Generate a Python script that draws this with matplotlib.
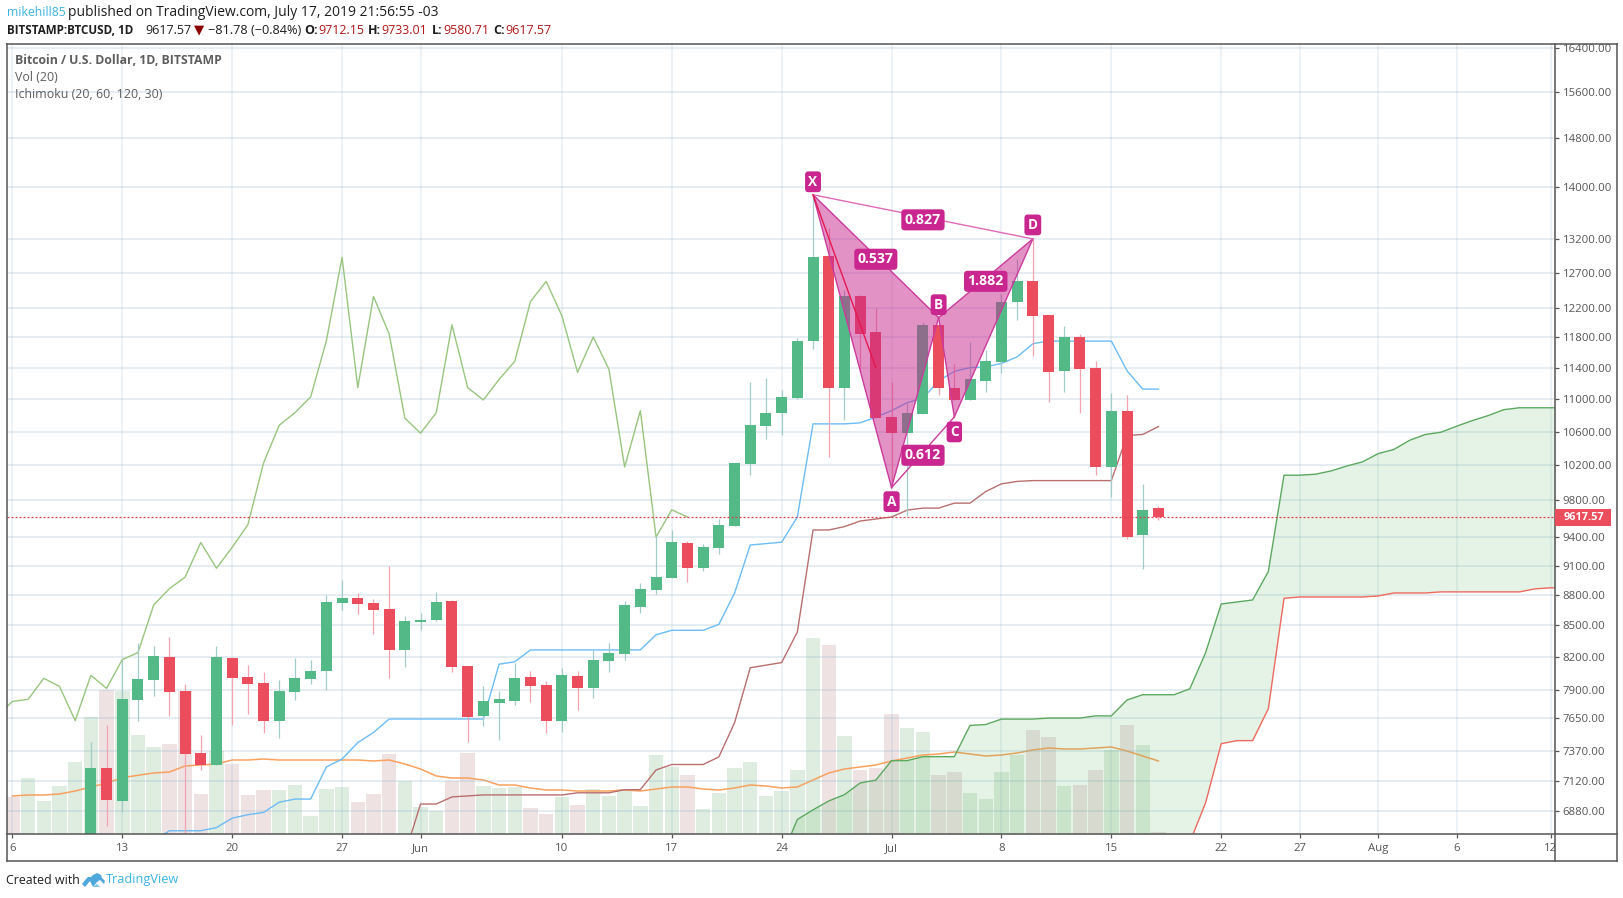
import pandas as pd
import matplotlib
matplotlib.use("Agg")
import matplotlib.pyplot as plt
from matplotlib.lines import Line2D
from matplotlib.patches import Polygon, Rectangle
from matplotlib.ticker import NullLocator
from matplotlib.transforms import Bbox

W, H = 1624, 898

# candles, one per day from 2019-05-11
CANDLE_START = "2019-05-11"
opens = [6370, 7223, 6963, 7805, 7985, 8203, 7885, 7353, 7255, 8194, 8014, 7957, 7622, 7880, 7994, 8066, 8723, 8773,
         8723, 8663, 8270, 8533, 8553, 8743, 8112, 7670, 7778, 7796, 8012, 7939, 7627, 8021, 7912, 8167, 8231, 8680,
         8853, 8969, 9341, 9072, 9280, 9523, 10216, 10665, 10822, 11013, 11753, 12940, 11144, 12363, 11874, 10775,
         10580, 10818, 11970, 11144, 10988, 11222, 11469, 12290, 12576, 12108, 11352, 11804, 11391, 10180, 10855,
         9425, 9712.15]
highs = [7446, 7593, 8176, 8331, 8306, 8390, 7948, 7500, 8306, 8203, 8125, 8060, 7985, 8194, 8172, 8800, 8950, 8824,
         8763, 9100, 8593, 8623, 8833, 8753, 8112, 7930, 7885, 8140, 8067, 7976, 8094, 8067, 8269, 8335, 8743, 8917,
         9408, 9479, 9362, 9331, 9598, 10228, 11213, 11265, 11110, 11791, 13882, 13359, 12460, 12390, 12205, 11210,
         10950, 12002, 11970, 11444, 11740, 11637, 12404, 12896, 13200, 12108, 11950, 11846, 11490, 11080, 11045,
         9988, 9733.01]
lows = [6370, 6766, 6870, 7622, 7843, 7665, 6600, 7210, 7255, 7585, 7682, 7518, 7477, 7810, 7948, 7897, 8653, 8610,
        8420, 8005, 8110, 8455, 8543, 8057, 7441, 7576, 7460, 7760, 7790, 7520, 7530, 7716, 7830, 8057, 8176, 8620,
        8810, 8969, 8928, 9041, 9217, 9523, 10090, 10505, 10560, 11000, 11650, 10300, 10745, 11340, 10763, 10000,
        9625, 10818, 11051, 10988, 10988, 11091, 11335, 12040, 11558, 10964, 11091, 10830, 10087, 9840, 9375,
        9062, 9580.71]
closes = [7223, 6970, 7814, 7994, 8212, 7880, 7345, 7255, 8203, 8005, 7948, 7622, 7885, 8003, 8066, 8733, 8773, 8713,
          8653, 8270, 8543, 8553, 8733, 8103, 7662, 7795, 7814, 8003, 7930, 7627, 8030, 7912, 8176, 8241, 8700, 8863,
          8980, 9342, 9072, 9290, 9533, 10228, 10677, 10830, 11026, 11753, 12926, 11144, 12363, 11846, 10763, 10580,
          10830, 11970, 11144, 10988, 11248, 11482, 12290, 12576, 12094, 11340, 11804, 11378, 10180, 10855, 9400,
          9696, 9617.57]

# volume from 2019-05-06, in arbitrary units
VOLUME_START = "2019-05-06"
volume = [3670, 5630, 3330, 4830, 7230, 11730, 14400, 14330, 9930, 8730, 9030, 14330, 4030, 8270, 7030, 3930, 4430,
          4430, 4930, 1830, 4530, 4730, 3230, 4030, 8030, 5300, 2730, 2330, 5270, 8100, 4830, 4630, 4730, 2630, 2030,
          3730, 2930, 4530, 3830, 4530, 2830, 7930, 6730, 5930, 2530, 4130, 6630, 7230, 3830, 4330, 6430, 19630,
          18930, 9830, 6430, 6630, 12030, 10630, 10230, 5930, 6230, 4130, 3530, 6230, 7930, 10430, 9730, 4830, 4930,
          6430, 8430, 10930, 8930, 230]
volume_ma = [3800, 3900, 3900, 4000, 4300, 4700, 5100, 5630, 5870, 6100, 6200, 6800, 6900, 7000, 7400, 7400, 7500,
             7400, 7400, 7400, 7400, 7400, 7400, 7300, 7400, 7000, 6500, 5800, 5600, 5600, 5400, 4900, 4900, 4600,
             4400, 4400, 4300, 4300, 4300, 4400, 4300, 4500, 4700, 4700, 4500, 4400, 4600, 4900, 4800, 4600, 4700,
             5400, 6100, 6500, 6700, 6900, 7300, 7600, 7900, 8000, 8200, 8000, 7800, 7900, 8100, 8400, 8600, 8500,
             8500, 8600, 8700, 8300, 7800, 7300]
# direction of the volume bars that come before the first visible candle
early_volume_up = [False, True, True, True, True]

# ichimoku lines
LAGGING_START = "2019-05-05"
lagging = [7662, 7795, 7814, 8003, 7930, 7627, 8030, 7912, 8176, 8241, 8700, 8863, 8980, 9342, 9072, 9290, 9533,
           10228, 10677, 10830, 11026, 11753, 12926, 11144, 12363, 11846, 10763, 10580, 10830, 11970, 11144, 10988,
           11248, 11482, 12290, 12576, 12094, 11340, 11804, 11378, 10180, 10855, 9400, 9696, 9617]
CONVERSION_START = "2019-05-15"
conversion = [6650, 6728, 6728, 6728, 6752, 6825, 6852, 6870, 6950, 6975, 6975, 7235, 7300, 7438, 7524, 7641, 7641,
              7641, 7641, 7641, 7641, 7641, 8133, 8155, 8266, 8266, 8266, 8266, 8266, 8266, 8266, 8266, 8410, 8453,
              8453, 8453, 8510, 8818, 9315, 9330, 9345, 9617, 10693, 10693, 10693, 10705, 10775, 10855, 10955, 11010,
              11230, 11352, 11400, 11410, 11455, 11540, 11715, 11750, 11750, 11750, 11750, 11750, 11360, 11125, 11125]
BASE_START = "2019-05-31"
base = [6550, 6936, 6936, 6992, 7000, 7008, 7008, 7008, 7008, 7008, 7008, 7025, 7025, 7025, 7050, 7050, 7210, 7255,
        7255, 7255, 7318, 7608, 8100, 8124, 8148, 8437, 9476, 9476, 9512, 9573, 9595, 9617, 9693, 9715, 9715, 9770,
        9770, 9900, 9987, 10015, 10024, 10024, 10024, 10024, 10024, 10024, 10552, 10565, 10660]
SPAN_START = "2019-06-24"
span_a = [6530, 6815, 6890, 6960, 7010, 7104, 7127, 7287, 7287, 7320, 7320, 7320, 7585, 7593, 7640, 7640, 7640, 7649,
          7649, 7649, 7668, 7668, 7808, 7855, 7855, 7855, 7908, 8238, 8710, 8730, 8750, 9038, 10086, 10086, 10097,
          10135, 10192, 10240, 10337, 10386, 10495, 10564, 10592, 10665, 10733, 10794, 10867, 10891, 10891, 10891,
          10891]
span_b = [6090, 6090, 6090, 6100, 6100, 6120, 6120, 6120, 6130, 6130, 6150, 6150, 6200, 6200, 6200, 6210, 6210, 6230,
          6230, 6230, 6240, 6240, 6250, 6250, 6300, 6450, 6640, 6944, 7429, 7455, 7455, 7730, 8767, 8780, 8780, 8780,
          8780, 8780, 8790, 8820, 8820, 8820, 8831, 8831, 8831, 8831, 8831, 8831, 8862, 8872, 8872]

# harmonic pattern points
pattern_names = ["X", "A", "B", "C", "D"]
pattern_dates = ["2019-06-26", "2019-07-01", "2019-07-04", "2019-07-05", "2019-07-10"]
pattern_prices = [13880, 9944, 12067, 10778, 13200]
pattern_label_offset = [13, -14, 13, -15, 14]
# extra straight line drawn from X
stray_dates = ["2019-06-26", "2019-06-30"]
stray_prices = [13880, 11400]

last_price = 9617.57
price_ticks = [6880, 7120, 7370, 7650, 7900, 8200, 8500, 8800, 9100, 9400, 9800, 10200, 10600, 11000, 11400, 11800,
               12200, 12700, 13200, 14000, 14800, 15600, 16400]
date_ticks = ["2019-05-06", "2019-05-13", "2019-05-20", "2019-05-27", "2019-06-01", "2019-06-10", "2019-06-17",
              "2019-06-24", "2019-07-01", "2019-07-08", "2019-07-15", "2019-07-22", "2019-07-27", "2019-08-01",
              "2019-08-06", "2019-08-12"]
date_labels = ["6", "13", "20", "27", "Jun", "10", "17", "24", "Jul", "8", "15", "22", "27", "Aug", "6", "12"]

GREEN = "#53b987"
RED = "#eb4d5c"
GREEN_WICK = "#a3cbca"
RED_WICK = "#f5a3ae"
MAGENTA = "#c9278f"
AXIS = "#555555"
FONT = "Open Sans"


def fx(px):
    return px / W


def fy(py):
    return 1 - py / H


def days(start, values):
    return pd.date_range(start, periods=len(values))


def frame_line(fig, x0, y0, x1, y1):
    fig.add_artist(Line2D([fx(x0), fx(x1)], [fy(y0), fy(y1)], color=AXIS, lw=1.1, zorder=9))


def put_text(fig, px, py, text, **kw):
    kw.setdefault("family", FONT)
    kw.setdefault("fontsize", 9)
    kw.setdefault("color", "#1e1e1e")
    fig.text(fx(px), fy(py), text, va="center", ha=kw.pop("ha", "left"), zorder=12, **kw)


def draw_volume(ax_vol):
    vol_up = early_volume_up + [c >= o for o, c in zip(opens, closes)]
    colors = ["#5aa55f" if up else "#a16369" for up in vol_up]
    alphas = [0.2 if up else 0.18 for up in vol_up]
    ax_vol.bar(days(VOLUME_START, volume), volume, width=0.92, color=colors, linewidth=0)
    for patch, alpha in zip(ax_vol.patches, alphas):
        patch.set_alpha(alpha)
    ax_vol.plot(days(VOLUME_START, volume_ma), volume_ma, color="#f9a15e", lw=1.1)
    ax_vol.set_ylim(0, 79100)
    ax_vol.yaxis.set_visible(False)
    for spine in ax_vol.spines.values():
        spine.set_visible(False)


def draw_ichimoku(ax):
    span_dates = days(SPAN_START, span_a)
    ax.fill_between(span_dates, span_a, span_b, color="#4caf50", alpha=0.14, linewidth=0, zorder=1)
    ax.plot(span_dates, span_a, color="#5ba85f", lw=1, zorder=2)
    ax.plot(span_dates, span_b, color="#ef6a60", lw=1, zorder=2)
    ax.plot(days(LAGGING_START, lagging), lagging, color="#98c57f", lw=1, zorder=2)
    ax.plot(days(CONVERSION_START, conversion), conversion, color="#6cbcf5", lw=1, zorder=2)
    ax.plot(days(BASE_START, base), base, color="#b96f6f", lw=1, zorder=2)


def draw_candles(ax):
    dates = days(CANDLE_START, opens)
    up = [c >= o for o, c in zip(opens, closes)]
    wick_colors = [GREEN_WICK if u else RED_WICK for u in up]
    ax.vlines(dates, lows, highs, colors=wick_colors, lw=0.9, zorder=3)
    body_low = [min(o, c) for o, c in zip(opens, closes)]
    body_size = [abs(c - o) for o, c in zip(opens, closes)]
    ax.bar(dates, body_size, bottom=body_low, width=0.7, color=[GREEN if u else RED for u in up], linewidth=0, zorder=4)


def draw_pattern(ax):
    pts = pd.to_datetime(pattern_dates)
    ax.fill(pts[[0, 1, 2]], [pattern_prices[i] for i in (0, 1, 2)], fc=MAGENTA, alpha=0.5, lw=0, zorder=5)
    ax.fill(pts[[2, 3, 4]], [pattern_prices[i] for i in (2, 3, 4)], fc=MAGENTA, alpha=0.5, lw=0, zorder=5)
    for i, j in [(0, 1), (1, 2), (2, 0), (2, 3), (3, 4), (4, 2), (1, 3)]:
        ax.plot(pts[[i, j]], [pattern_prices[i], pattern_prices[j]], color="#cb3a9c", lw=1, zorder=6)
    ax.plot(pts[[0, 4]], [pattern_prices[0], pattern_prices[4]], color="#e269b8", lw=1, zorder=6)
    ax.plot(pd.to_datetime(stray_dates), stray_prices, color="#e5184f", lw=1, zorder=6)

    box = dict(boxstyle="round,pad=0.25", fc=MAGENTA, ec="none")
    for name, d, p, off in zip(pattern_names, pts, pattern_prices, pattern_label_offset):
        ax.annotate(name, xy=(d, p), xytext=(0, off), textcoords="offset pixels", ha="center", va="center",
                    color="white", fontsize=9.8, fontweight="bold", family=FONT, bbox=box, zorder=8)
    for i, j, text in [(0, 4, "0.827"), (0, 2, "0.537"), (2, 4, "1.882"), (1, 3, "0.612")]:
        mid_date = pts[i] + (pts[j] - pts[i]) / 2
        mid_price = (pattern_prices[i] * pattern_prices[j]) ** 0.5
        ax.annotate(text, xy=(mid_date, mid_price), xytext=(0, -3), textcoords="offset pixels", ha="center",
                    va="center", color="white", fontsize=10.2, fontweight="bold", family=FONT, bbox=box, zorder=8)


def draw_axes(ax):
    ax.set_yscale("log")
    ax.set_ylim(6703, 16499)
    ax.set_xlim(pd.Timestamp("2019-05-05 15:00"), pd.Timestamp("2019-08-12 06:15"))
    ax.yaxis.tick_right()
    ax.set_yticks(price_ticks)
    ax.set_yticklabels([f"{p:.2f}" for p in price_ticks], family=FONT, fontsize=8.2, color=AXIS)
    ax.yaxis.set_minor_locator(NullLocator())
    ax.set_xticks(pd.to_datetime(date_ticks))
    ax.set_xticklabels(date_labels, family=FONT, fontsize=8.2, color=AXIS)
    ax.xaxis.set_minor_locator(NullLocator())
    ax.tick_params(axis="y", length=3, width=0.9, color=AXIS, pad=2.5)
    ax.tick_params(axis="x", length=3, width=0.9, color=AXIS, pad=3.5)
    ax.grid(True, axis="y", color="#8fb4cc", alpha=0.28, lw=1.2)
    ax.grid(True, axis="x", color="#8fb4cc", alpha=0.2, lw=1.2)
    ax.set_axisbelow(True)
    for spine in ax.spines.values():
        spine.set_visible(False)
    ax.patch.set_visible(False)
    # the last date label is cut by the price scale
    clip_label = ax.get_xticklabels()[-1]
    clip_label.set_clip_box(Bbox([[0, 0], [1555, H]]))
    clip_label.set_clip_on(True)
    ax.axhline(last_price, color="#e2404f", lw=0.9, ls=(0, (1.6, 1.6)), zorder=7)


def draw_header(fig):
    put_text(fig, 6.8, 12.5, "mikehill85", color="#3bb3e4", fontsize=8.8)
    put_text(fig, 68, 12.5, "published on TradingView.com, July 17, 2019 21:56:55 -03", fontsize=10)
    put_text(fig, 6.8, 30, "BITSTAMP:BTCUSD, 1D", fontweight="bold", fontsize=8.4)
    put_text(fig, 145.4, 30, "9617.57", fontsize=9)
    put_text(fig, 194, 30, "▼", family="DejaVu Sans", color="#8b0000", fontsize=9.5)
    put_text(fig, 208, 30, "−81.78 (−0.84%)", fontsize=9.2)
    for lx, label, vx, value in [(304, "O:", 318, "9712.15"), (368, "H:", 381.4, "9733.01"),
                                 (432, "L:", 443, "9580.71"), (493, "C:", 505, "9617.57")]:
        put_text(fig, lx, 30, label, fontweight="bold", fontsize=9)
        put_text(fig, vx, 30, value, color="#b01818", fontsize=9)

    put_text(fig, 15, 60.5, "Bitcoin / U.S. Dollar, 1D, BITSTAMP", fontweight="bold", color="#5d5d5d", fontsize=8.8)
    put_text(fig, 15, 77.7, "Vol (20)", color="#5d5d5d", fontsize=8.9)
    put_text(fig, 15, 94.2, "Ichimoku (20, 60, 120, 30)", color="#5d5d5d", fontsize=8.9)

    put_text(fig, 6, 880, "Created with", fontsize=8.9)
    put_text(fig, 106, 880, "TradingView", color="#3bb3e4", fontsize=9.2)
    logo_top = [(82, 884), (86, 879), (88, 877), (91, 877), (93, 875), (97, 873), (101, 875), (102, 878), (105, 881),
                (104, 884), (100, 880), (97, 882), (93, 887), (90, 881), (85, 887)]
    fig.add_artist(Polygon([(fx(x), fy(y)) for x, y in logo_top], closed=True, fc="#4fa8dc", ec="none"))
    logo_low = [(93, 887), (97, 884), (100, 887)]
    fig.add_artist(Polygon([(fx(x), fy(y)) for x, y in logo_low], closed=True, fc="#7cc4ea", ec="none"))


def draw_frame(fig):
    frame_line(fig, 6.5, 43.5, 1617.5, 43.5)
    frame_line(fig, 6.5, 43.5, 6.5, 861)
    frame_line(fig, 6.5, 861, 1617.5, 861)
    frame_line(fig, 1617.5, 43.5, 1617.5, 861)
    frame_line(fig, 6.5, 834, 1617.5, 834)
    frame_line(fig, 1555, 43.5, 1555, 861)
    fig.add_artist(Rectangle((fx(1555), fy(526)), fx(56), 17 / H, fc=RED, ec="none", zorder=10))
    put_text(fig, 1564, 517.5, f"{last_price:.2f}", color="white", fontweight="bold", fontsize=7.9)


if __name__ == "__main__":
    fig = plt.figure(figsize=(W / 100, H / 100), dpi=100, facecolor="white")
    ax = fig.add_axes([fx(6.5), fy(834), 1548.5 / W, 791 / H])
    ax_vol = ax.twinx()
    ax.set_zorder(2)
    ax_vol.set_zorder(1)

    draw_volume(ax_vol)
    draw_ichimoku(ax)
    draw_candles(ax)
    draw_pattern(ax)
    draw_axes(ax)
    draw_header(fig)
    draw_frame(fig)

    fig.savefig("out.png", dpi=100)
